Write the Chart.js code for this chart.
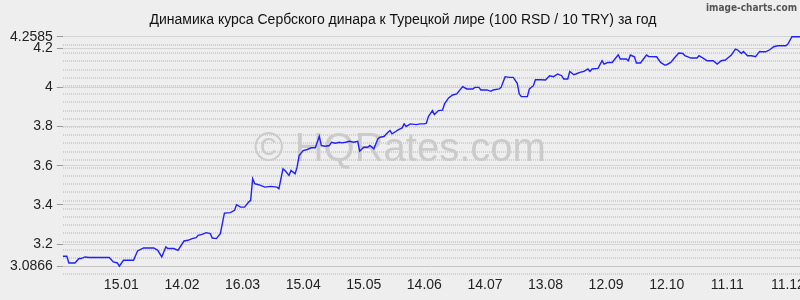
<!DOCTYPE html>
<html>
<head>
<meta charset="utf-8">
<script src="https://cdn.jsdelivr.net/npm/chart.js@4.4.1/dist/chart.umd.min.js"></script>
<style>
  html, body { margin: 0; padding: 0; background: #eeeeee; }
  #wrap { width: 800px; height: 300px; }
</style>
</head>
<body>
<div id="wrap"><canvas id="rateChart"></canvas></div>
<script>
const titleText = "Динамика курса Сербского динара к Турецкой лире (100 RSD / 10 TRY) за год";

// day 0 = 17.12 of the previous year
const days = [
  0, 2, 3, 6, 8, 9, 11, 13, 23, 25, 27, 28, 30, 35, 37, 40, 45, 47, 49, 51,
  52, 55, 57, 60, 62, 64, 66, 67, 69, 71, 73, 74, 76, 78, 80, 83, 85, 86, 88, 90,
  92, 93, 94, 95, 97, 100, 103, 106, 107, 109, 110, 112, 113, 115, 116, 117, 119, 121, 123, 125,
  127, 128, 130, 132, 133, 135, 137, 138, 140, 142, 144, 146, 147, 149, 151, 152, 154, 156, 157, 159,
  161, 162, 163, 165, 166, 168, 169, 170, 172, 175, 177, 179, 180, 181, 183, 184, 186, 188, 189, 191,
  193, 195, 198, 200, 203, 204, 206, 207, 210, 212, 213, 216, 217, 219, 221, 223, 225, 226, 227, 230,
  231, 233, 234, 237, 239, 241, 243, 245, 247, 248, 250, 251, 253, 254, 256, 258, 260, 261, 262, 265,
  267, 268, 270, 272, 275, 276, 279, 280, 281, 283, 284, 286, 289, 290, 294, 296, 298, 299, 301, 303,
  305, 307, 308, 311, 314, 315, 317, 319, 322, 324, 326, 328, 330, 331, 333, 334, 336, 337, 339, 341,
  343, 345, 346, 348, 350, 352, 354, 358, 359, 361, 363, 365
];
const rates = [
  3.1376, 3.1376, 3.1034, 3.1034, 3.1258, 3.1258, 3.1340, 3.1309, 3.1309, 3.1085, 3.1034, 3.0866, 3.1172, 3.1172, 3.1646, 3.1798, 3.1798, 3.1681, 3.1340, 3.1849,
  3.1768, 3.1768, 3.1681, 3.2155, 3.2191, 3.2277, 3.2328, 3.2445, 3.2496, 3.2583, 3.2532, 3.2308, 3.2277, 3.2532, 3.3582, 3.3602, 3.3719, 3.4010, 3.3887, 3.3887,
  3.4142, 3.4229, 3.5334, 3.5080, 3.5029, 3.4906, 3.4942, 3.4906, 3.4825, 3.5844, 3.5757, 3.5502, 3.5757, 3.5589, 3.5925, 3.6521, 3.6776, 3.6827, 3.6914, 3.6914,
  3.7505, 3.7031, 3.6995, 3.7031, 3.7199, 3.7148, 3.7199, 3.7168, 3.7199, 3.7250, 3.7199, 3.7250, 3.6741, 3.6944, 3.6944, 3.7031, 3.6863, 3.7372, 3.7454, 3.7490,
  3.7709, 3.7795, 3.7627, 3.7760, 3.7831, 3.7933, 3.8137, 3.7999, 3.8137, 3.8101, 3.8137, 3.8137, 3.8167, 3.8509, 3.8814, 3.8610, 3.8814, 3.8840, 3.9156, 3.9461,
  3.9614, 3.9665, 4.0037, 3.9920, 3.9920, 4.0001, 4.0001, 3.9869, 3.9869, 3.9798, 3.9869, 3.9920, 4.0001, 4.0547, 4.0511, 4.0511, 4.0205, 3.9665, 3.9528, 3.9528,
  3.9920, 4.0088, 4.0394, 4.0394, 4.0378, 4.0597, 4.0547, 4.0684, 4.0597, 4.0429, 4.0429, 4.0817, 4.0648, 4.0684, 4.0766, 4.0817, 4.0939, 4.0817, 4.0939, 4.0969,
  4.1362, 4.1194, 4.1275, 4.1275, 4.1667, 4.1448, 4.1448, 4.1362, 4.1652, 4.1566, 4.1244, 4.1244, 4.1652, 4.1581, 4.1566, 4.1275, 4.1143, 4.1158, 4.1275, 4.1530,
  4.1754, 4.1734, 4.1616, 4.1499, 4.1499, 4.1616, 4.1499, 4.1362, 4.1362, 4.1194, 4.1362, 4.1397, 4.1566, 4.1652, 4.1958, 4.1922, 4.1734, 4.1836, 4.1616, 4.1616,
  4.1566, 4.1836, 4.1820, 4.1820, 4.1922, 4.2075, 4.2126, 4.2126, 4.2213, 4.2585, 4.2585, 4.2585
];

const monthTickDays = [29, 59, 89, 119, 149, 179, 209, 239, 269, 299, 329, 359];
const monthTickLabels = ["15.01", "14.02", "16.03", "15.04", "15.05", "14.06", "14.07", "13.08", "12.09", "12.10", "11.11", "11.12"];

const rateMin = 3.0866;
const rateMax = 4.2585;
const rateTickLabels = ["4.2", "4", "3.8", "3.6", "3.4", "3.2"];

const fontFamily = '"Liberation Sans", Arial, sans-serif';

const decorations = {
  id: 'decorations',
  beforeDatasetsDraw(chart) {
    const c = chart.ctx;
    c.save();
    c.font = '40px ' + fontFamily;
    c.fillStyle = '#cbcbcb';
    c.textAlign = 'center';
    c.textBaseline = 'alphabetic';
    c.fillText('© HQRates.com', chart.width / 2, 161);
    c.restore();
  },
  afterDraw(chart) {
    const c = chart.ctx;
    c.save();
    c.font = 'bold 10px "DejaVu Sans Condensed", "DejaVu Sans", sans-serif';
    c.fillStyle = '#555555';
    c.textAlign = 'right';
    c.textBaseline = 'middle';
    c.fillText('image-charts.com', 797, 8);
    c.restore();
  }
};

const ctx = document.getElementById('rateChart').getContext('2d');

new Chart(ctx, {
  type: 'line',
  data: {
    datasets: [{
      data: days.map((d, i) => ({ x: d, y: rates[i] })),
      borderColor: '#2020ff',
      borderWidth: 1.4,
      pointRadius: 0,
      tension: 0,
      fill: false
    }]
  },
  options: {
    responsive: true,
    maintainAspectRatio: false,
    animation: false,
    layout: { padding: { top: 0, left: 6, right: 0, bottom: 6 } },
    plugins: {
      legend: { display: false },
      tooltip: { enabled: false },
      title: {
        display: true,
        text: titleText,
        color: '#111111',
        font: { size: 14, family: fontFamily, weight: 'normal' },
        padding: { top: 12, bottom: 7 }
      }
    },
    scales: {
      x: {
        type: 'linear',
        min: 0,
        max: 365,
        afterBuildTicks: axis => {
          axis.ticks = monthTickDays.map(v => ({ value: v }));
        },
        afterFit: s => { s.paddingLeft = 0; s.paddingRight = 0; },
        ticks: {
          autoSkip: false,
          maxRotation: 0,
          padding: 0,
          color: '#222222',
          font: { size: 14, family: fontFamily },
          callback: (v, i) => monthTickLabels[i]
        },
        grid: { display: false, drawTicks: false },
        border: { display: false }
      },
      y: {
        min: rateMin - 0.056,
        max: rateMax + 0.005,
        afterBuildTicks: axis => {
          const step = (rateMax - rateMin) / 28;
          const list = [];
          for (let k = 0; k <= 29; k++) {
            list.push({ value: rateMax - k * step });
          }
          list[0].text = String(rateMax);
          list[28].text = String(rateMin);
          list[28].solid = true;
          rateTickLabels.forEach(t => list.push({ value: parseFloat(t), text: t }));
          list.sort((a, b) => a.value - b.value);
          axis.ticks = list;
        },
        afterFit: s => { s.paddingTop = 0; s.paddingBottom = 0; },
        ticks: {
          autoSkip: false,
          padding: 4,
          color: '#222222',
          font: { size: 14, family: fontFamily },
          callback: (v, i, ticks) => ticks[i].text || ''
        },
        grid: {
          color: c => (c.tick && c.tick.solid) ? '#c4c4c4' : (c.tick && c.tick.text ? '#d4d4d4' : '#d0d0d0'),
          lineWidth: c => (c.tick && c.tick.text) ? 1 : 2,
          tickColor: c => (c.tick && c.tick.text) ? '#9a9a9a' : 'rgba(0,0,0,0)',
          tickLength: 6
        },
        border: {
          display: false,
          dash: c => (c.tick && c.tick.text) ? [] : [1, 1]
        }
      }
    }
  },
  plugins: [decorations]
});
</script>
</body>
</html>
